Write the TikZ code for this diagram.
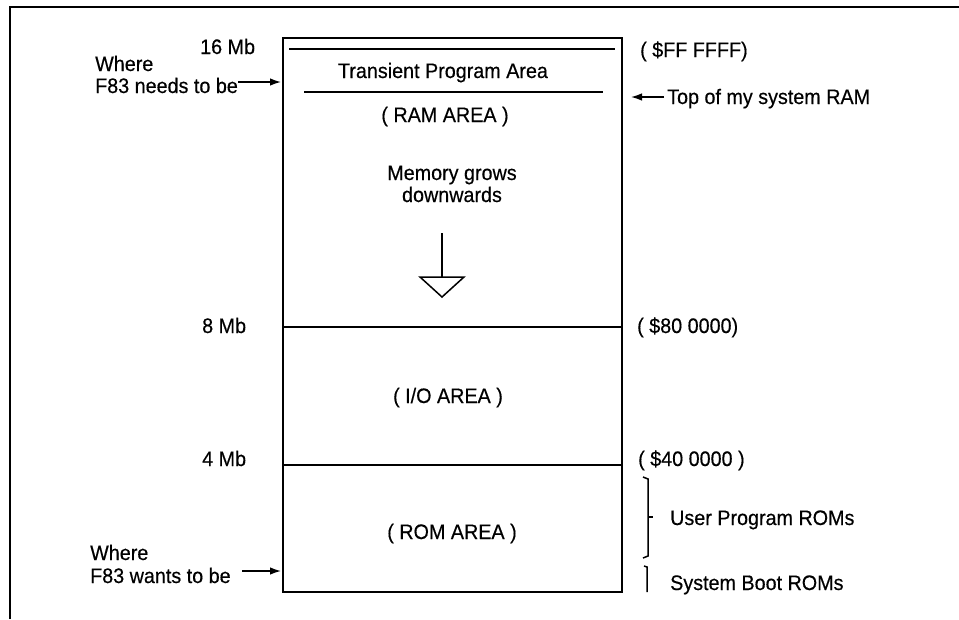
\documentclass[tikz,border=0pt]{standalone}
\usepackage{fontspec}
\setmainfont[FakeStretch=0.94,FakeBold=0.4]{Liberation Sans}
\usetikzlibrary{arrows.meta}
\begin{document}
\begin{tikzpicture}[x=1pt,y=-1pt,
  lbl/.style={inner sep=0pt, font=\fontsize{21}{22}\selectfont},
  lw/.style={lbl, anchor=base west},
  lc/.style={lbl, anchor=base},
  ptr/.style={line width=1.4pt, -{Latex[length=11pt,width=7.5pt]}},
  wall/.style={line width=1.8pt},
  rule/.style={line width=1.5pt},
  frame/.style={line width=1.1pt}]
\useasboundingbox (0,0) rectangle (959,619);

% page frame: left and top rules only
\draw[frame] (10,619) -- (10,7) -- (959,7);

% memory map column
\coordinate (boxtl) at (283,38);
\coordinate (boxbr) at (622,592);
\draw[wall] (boxtl) rectangle (boxbr);
\coordinate (mid8l) at (283,327);  \coordinate (mid8r) at (622,327);
\coordinate (mid4l) at (283,465);  \coordinate (mid4r) at (622,465);
\draw[wall] (mid8l) -- (mid8r);
\draw[wall] (mid4l) -- (mid4r);
\coordinate (tpaTopL) at (289,49); \coordinate (tpaTopR) at (615,49);
\coordinate (tpaBotL) at (304,92); \coordinate (tpaBotR) at (603,92);
\draw[rule] (tpaTopL) -- (tpaTopR);
\draw[rule] (tpaBotL) -- (tpaBotR);

% texts inside the column
\node[lc] (tpa)   at (443,78)  {Transient Program Area};
\node[lc] (ram)   at (445,122) {( RAM AREA )};
\node[lc] (grow1) at (452,180) {Memory grows};
\node[lc] (grow2) at (452,202) {downwards};
\node[lc] (io)    at (448,403) {( I/O AREA )};
\node[lc] (rom)   at (452,539) {( ROM AREA )};

% growth direction marker
\coordinate (growtop) at (442,233);
\coordinate (growbase) at (442,277);
\draw[rule] (growtop) -- (growbase);
\draw[rule, line join=miter] (420,277) -- (464,277) -- (442,297) -- cycle;

% size marks on the left
\node[lw] (mb16) at (200,54)  {16 Mb};
\node[lw] (mb8)  at (202,333) {8 Mb};
\node[lw] (mb4)  at (202,466) {4 Mb};

% addresses on the right
\node[lw] (aFF) at (640,57)  {( \$FF FFFF)};
\node[lw] (a80) at (637,333) {( \$80 0000)};
\node[lw] (a40) at (638,466) {( \$40 0000 )};

% pointers
\node[lw] (need1) at (95,71) {Where};
\node[lw] (need2) at (95,93) {F83 needs to be};
\coordinate (needtail) at (238,82);
\coordinate (needtip)  at (281,82);
\draw[ptr] (needtail) -- (needtip);

\node[lw] (want1) at (90,560) {Where};
\node[lw] (want2) at (90,583) {F83 wants to be};
\coordinate (wanttail) at (242,571);
\coordinate (wanttip)  at (281,571);
\draw[ptr] (wanttail) -- (wanttip);

\node[lw] (topram) at (667,104) {Top of my system RAM};
\coordinate (topramtail) at (664,97);
\coordinate (topramtip)  at (631,97);
\draw[ptr] (topramtail) -- (topramtip);

% ROM brackets
\draw[rule] (643,477) -- (648,479) -- (648,556) -- (643,558);
\draw[rule] (648,517) -- (653,517);
\node[lw] (userrom) at (670,525) {User Program ROMs};
\draw[rule] (644,566) -- (647,567) -- (647,592);
\node[lw] (bootrom) at (670,590) {System Boot ROMs};
\end{tikzpicture}
\end{document}
